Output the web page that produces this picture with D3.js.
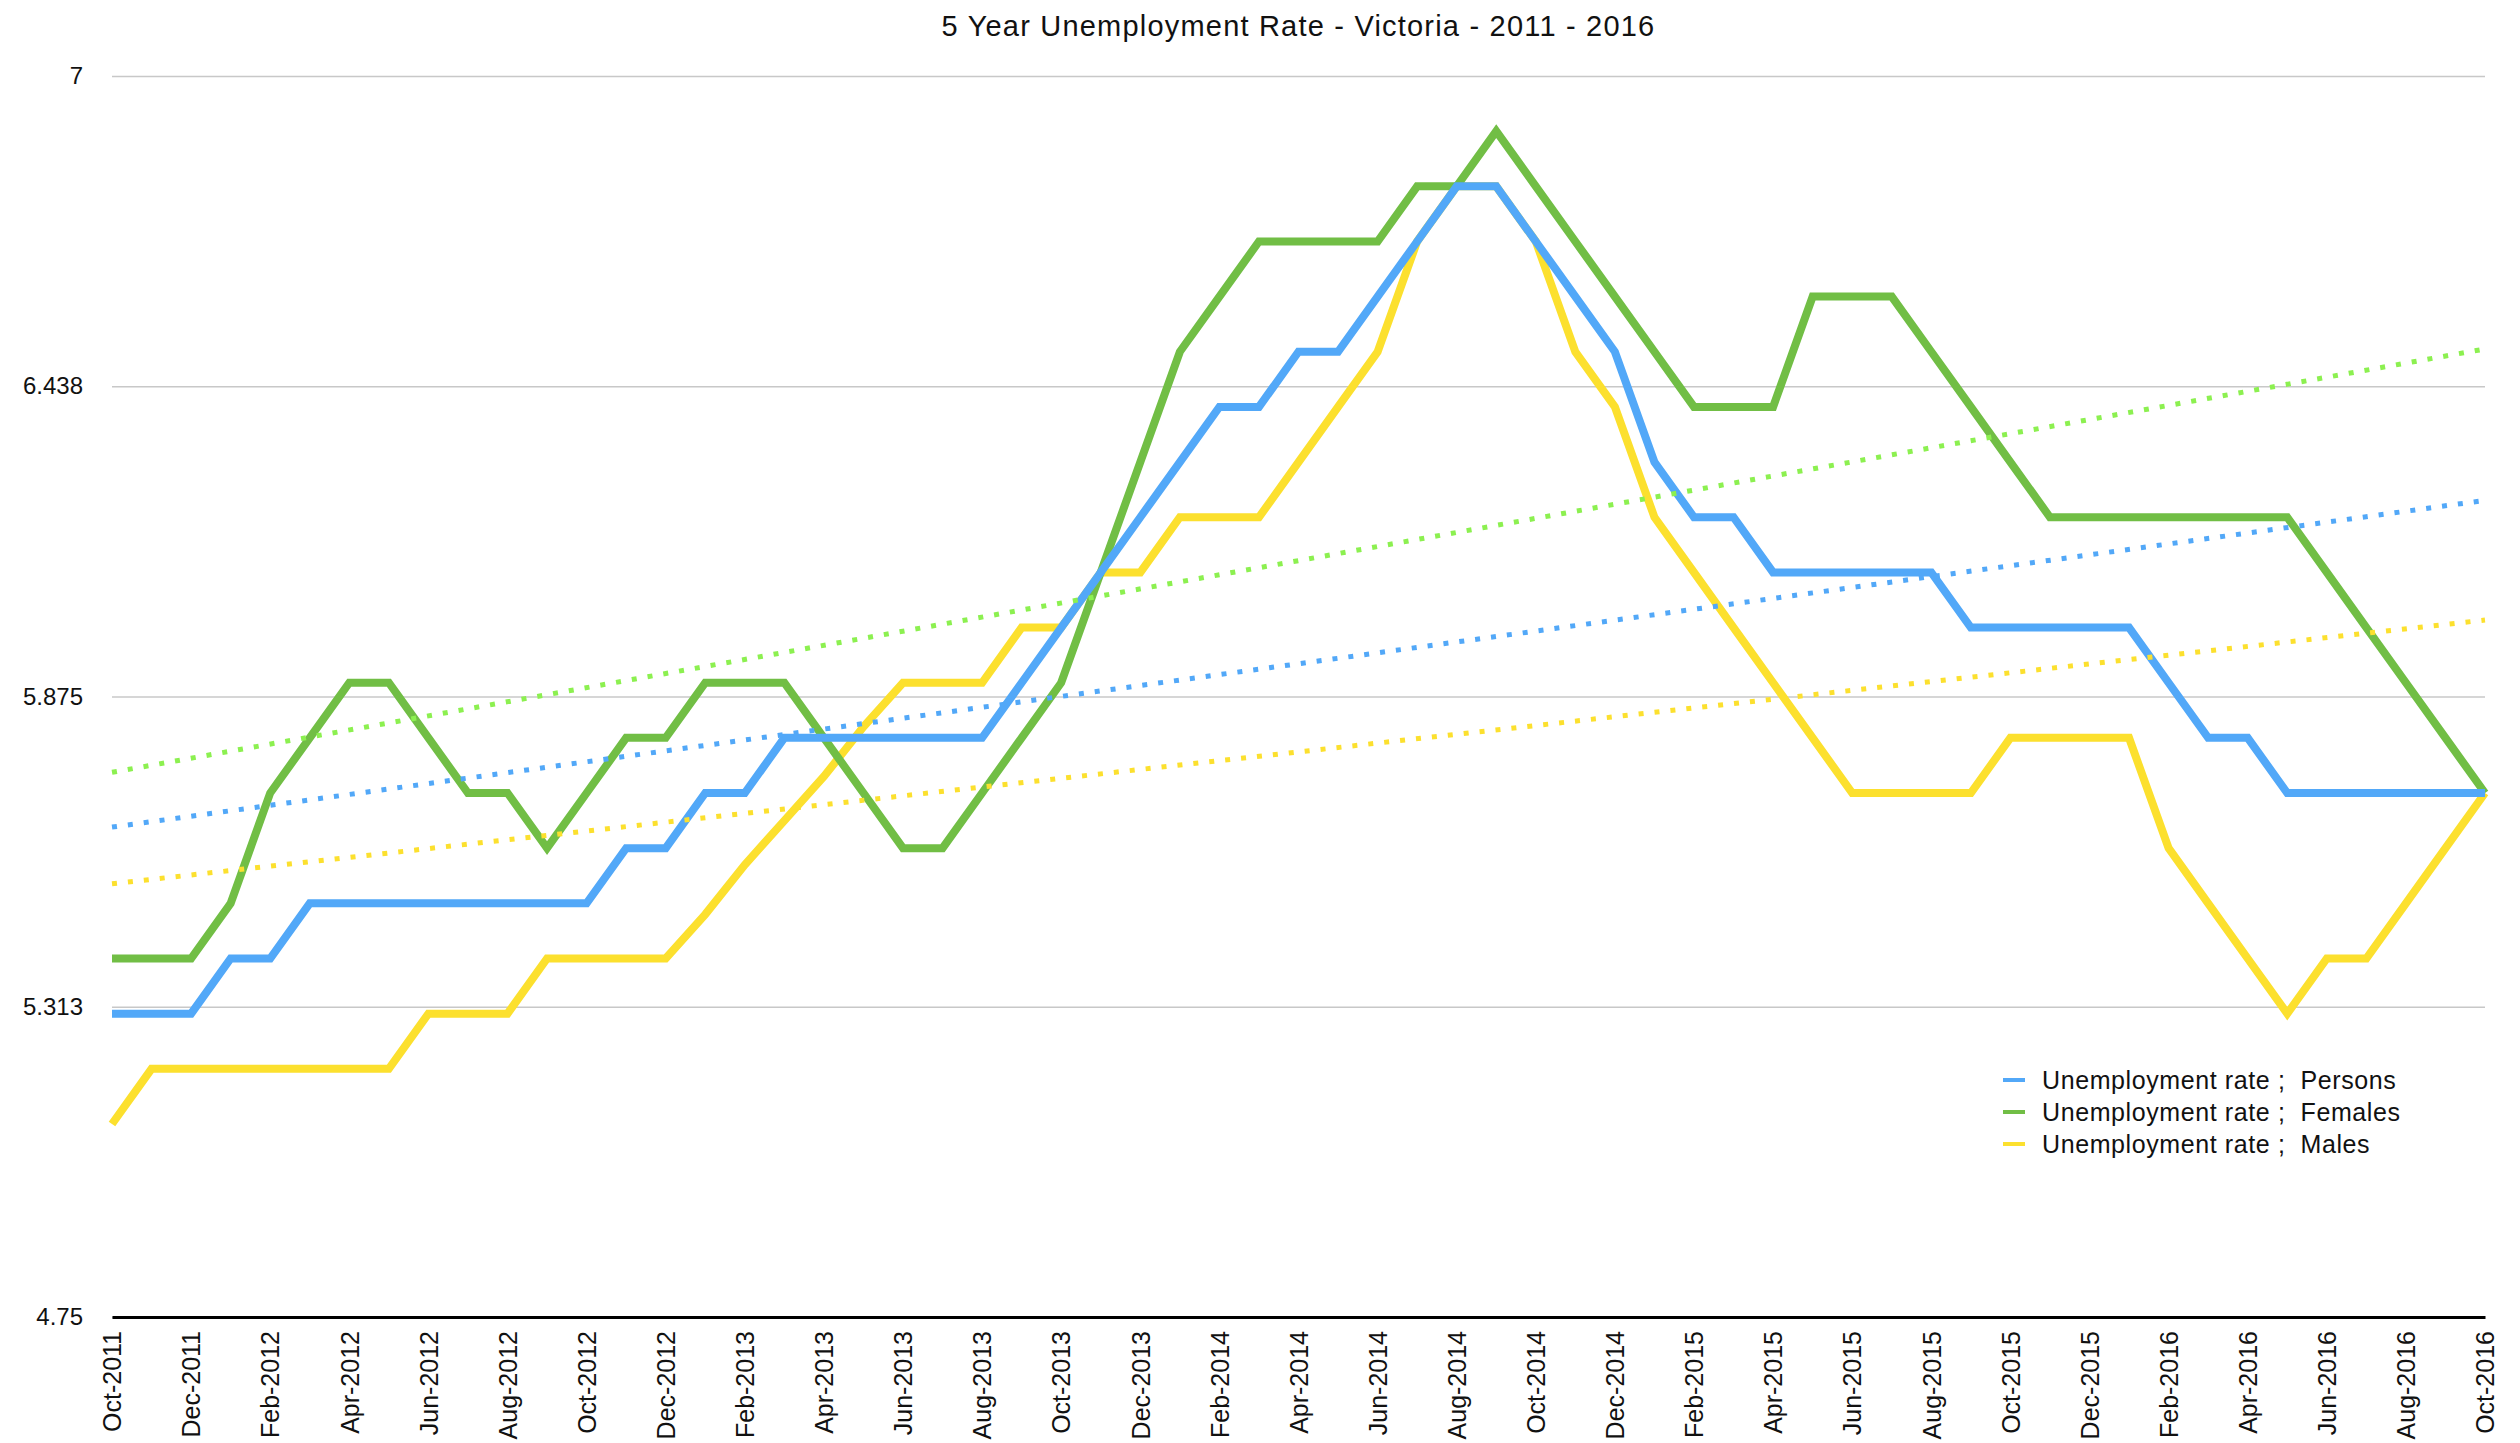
<!DOCTYPE html>
<html>
<head>
<meta charset="utf-8">
<title>5 Year Unemployment Rate - Victoria - 2011 - 2016</title>
<script src="https://d3js.org/d3.v7.min.js"></script>
<style>
  html, body { margin: 0; padding: 0; background: #fff; }
  svg { display: block; font-family: "Liberation Sans", Arial, Helvetica, sans-serif; }
</style>
</head>
<body>
<svg id="chart" width="2520" height="1443"></svg>
<script>
// months on the x axis
const months = [
  "Oct-2011","Nov-2011","Dec-2011","Jan-2012","Feb-2012","Mar-2012","Apr-2012","May-2012","Jun-2012","Jul-2012","Aug-2012","Sep-2012",
  "Oct-2012","Nov-2012","Dec-2012","Jan-2013","Feb-2013","Mar-2013","Apr-2013","May-2013","Jun-2013","Jul-2013","Aug-2013","Sep-2013",
  "Oct-2013","Nov-2013","Dec-2013","Jan-2014","Feb-2014","Mar-2014","Apr-2014","May-2014","Jun-2014","Jul-2014","Aug-2014","Sep-2014",
  "Oct-2014","Nov-2014","Dec-2014","Jan-2015","Feb-2015","Mar-2015","Apr-2015","May-2015","Jun-2015","Jul-2015","Aug-2015","Sep-2015",
  "Oct-2015","Nov-2015","Dec-2015","Jan-2016","Feb-2016","Mar-2016","Apr-2016","May-2016","Jun-2016","Jul-2016","Aug-2016","Sep-2016",
  "Oct-2016"
];

// Unemployment rate ; Persons
const persons = [
  5.3, 5.3, 5.3, 5.4, 5.4, 5.5, 5.5, 5.5, 5.5, 5.5, 5.5, 5.5,
  5.5, 5.6, 5.6, 5.7, 5.7, 5.8, 5.8, 5.8, 5.8, 5.8, 5.8, 5.9,
  6.0, 6.1, 6.2, 6.3, 6.4, 6.4, 6.5, 6.5, 6.6, 6.7, 6.8, 6.8,
  6.7, 6.6, 6.5, 6.3, 6.2, 6.2, 6.1, 6.1, 6.1, 6.1, 6.1, 6.0,
  6.0, 6.0, 6.0, 6.0, 5.9, 5.8, 5.8, 5.7, 5.7, 5.7, 5.7, 5.7,
  5.7
];

// Unemployment rate ; Females
const females = [
  5.4, 5.4, 5.4, 5.5, 5.7, 5.8, 5.9, 5.9, 5.8, 5.7, 5.7, 5.6,
  5.7, 5.8, 5.8, 5.9, 5.9, 5.9, 5.8, 5.7, 5.6, 5.6, 5.7, 5.8,
  5.9, 6.1, 6.3, 6.5, 6.6, 6.7, 6.7, 6.7, 6.7, 6.8, 6.8, 6.9,
  6.8, 6.7, 6.6, 6.5, 6.4, 6.4, 6.4, 6.6, 6.6, 6.6, 6.5, 6.4,
  6.3, 6.2, 6.2, 6.2, 6.2, 6.2, 6.2, 6.2, 6.1, 6.0, 5.9, 5.8,
  5.7
];

// Unemployment rate ; Males
const males = [
  5.1, 5.2, 5.2, 5.2, 5.2, 5.2, 5.2, 5.2, 5.3, 5.3, 5.3, 5.4,
  5.4, 5.4, 5.4, 5.48, 5.57, 5.65, 5.73, 5.82, 5.9, 5.9, 5.9, 6.0,
  6.0, 6.1, 6.1, 6.2, 6.2, 6.2, 6.3, 6.4, 6.5, 6.7, 6.8, 6.8,
  6.7, 6.5, 6.4, 6.2, 6.1, 6.0, 5.9, 5.8, 5.7, 5.7, 5.7, 5.7,
  5.8, 5.8, 5.8, 5.8, 5.6, 5.5, 5.4, 5.3, 5.4, 5.4, 5.5, 5.6,
  5.7
];

const yTicks = [4.75, 5.3125, 5.875, 6.4375, 7];
const yTickLabels = ["4.75", "5.313", "5.875", "6.438", "7"];
const seriesNames = ["Unemployment rate ;  Persons", "Unemployment rate ;  Females", "Unemployment rate ;  Males"];

const colors = { persons: "#52a8f8", females: "#71be45", males: "#fce02e" };
const trendColors = { persons: "#52a8f8", females: "#8cf050", males: "#fce02e" };

const svg = d3.select("#chart");

const x = d3.scalePoint().domain(months).range([112, 2485]);
const y = d3.scaleLinear().domain([4.75, 7]).range([1317, 76]);

// 标题
svg.append("text")
  .attr("x", (112 + 2485) / 2)
  .attr("y", 36)
  .attr("text-anchor", "middle")
  .attr("font-size", 29)
  .attr("letter-spacing", 1.2)
  .attr("fill", "#111")
  .text("5 Year Unemployment Rate - Victoria - 2011 - 2016");

// y axis + gridlines
const yAxis = svg.append("g")
  .attr("transform", "translate(112,0)")
  .call(d3.axisLeft(y)
    .tickValues(yTicks)
    .tickFormat((d, i) => yTickLabels[i])
    .tickSize(-(2485 - 112))
    .tickPadding(29));
yAxis.select(".domain").remove();
yAxis.selectAll(".tick line").attr("stroke", "#c8c8c8").attr("stroke-width", 1.5);
yAxis.selectAll(".tick text")
  .attr("font-size", 24)
  .attr("fill", "#111")
  .style("font-family", "'Liberation Sans', Arial, sans-serif");

// x axis with rotated labels every second month
const xAxis = svg.append("g")
  .attr("transform", "translate(0,1317)")
  .call(d3.axisBottom(x)
    .tickValues(months.filter((d, i) => i % 2 === 0))
    .tickSize(0)
    .tickSizeOuter(0));
xAxis.select(".domain").attr("stroke", "#000").attr("stroke-width", 3);
xAxis.selectAll(".tick text")
  .attr("font-size", 25)
  .attr("fill", "#111")
  .style("font-family", "'Liberation Sans', Arial, sans-serif")
  .attr("text-anchor", "end")
  .attr("transform", "rotate(-90)")
  .attr("x", -14)
  .attr("y", 0)
  .attr("dy", "0.35em");

// series lines, males first so persons sits on top
const series = [
  { key: "males", values: males },
  { key: "females", values: females },
  { key: "persons", values: persons }
];

const line = d3.line()
  .x((d, i) => x(months[i]))
  .y(d => y(d));

svg.append("g").selectAll("path")
  .data(series)
  .join("path")
  .attr("d", d => line(d.values))
  .attr("fill", "none")
  .attr("stroke", d => colors[d.key])
  .attr("stroke-width", 8);

// linear trend lines (least squares)
function fitLine(values) {
  const n = values.length;
  const mx = d3.mean(values, (d, i) => i);
  const my = d3.mean(values);
  let num = 0, den = 0;
  values.forEach((v, i) => { num += (i - mx) * (v - my); den += (i - mx) * (i - mx); });
  const slope = num / den;
  return [my - slope * mx, my + slope * (n - 1 - mx)];
}

const trends = [
  { key: "persons", values: persons },
  { key: "females", values: females },
  { key: "males", values: males }
];

svg.append("g").selectAll("line")
  .data(trends)
  .join("line")
  .each(function(d) {
    const ends = fitLine(d.values);
    d3.select(this)
      .attr("x1", x(months[0]))
      .attr("y1", y(ends[0]))
      .attr("x2", x(months[months.length - 1]))
      .attr("y2", y(ends[1]));
  })
  .attr("stroke", d => trendColors[d.key])
  .attr("stroke-width", 5)
  .attr("stroke-dasharray", "5 11");

// legend
const legendKeys = ["persons", "females", "males"];
const legend = svg.append("g").attr("transform", "translate(2003,1080)");
legendKeys.forEach((k, i) => {
  const row = legend.append("g").attr("transform", `translate(0,${i * 32})`);
  row.append("line")
    .attr("x1", 0).attr("x2", 22)
    .attr("y1", 0).attr("y2", 0)
    .attr("stroke", colors[k])
    .attr("stroke-width", 4);
  row.append("text")
    .attr("x", 39)
    .attr("y", 0)
    .attr("dy", "0.35em")
    .attr("font-size", 25)
    .attr("letter-spacing", 0.6)
    .attr("fill", "#111")
    .style("white-space", "pre")
    .text(seriesNames[i]);
});
</script>
</body>
</html>
